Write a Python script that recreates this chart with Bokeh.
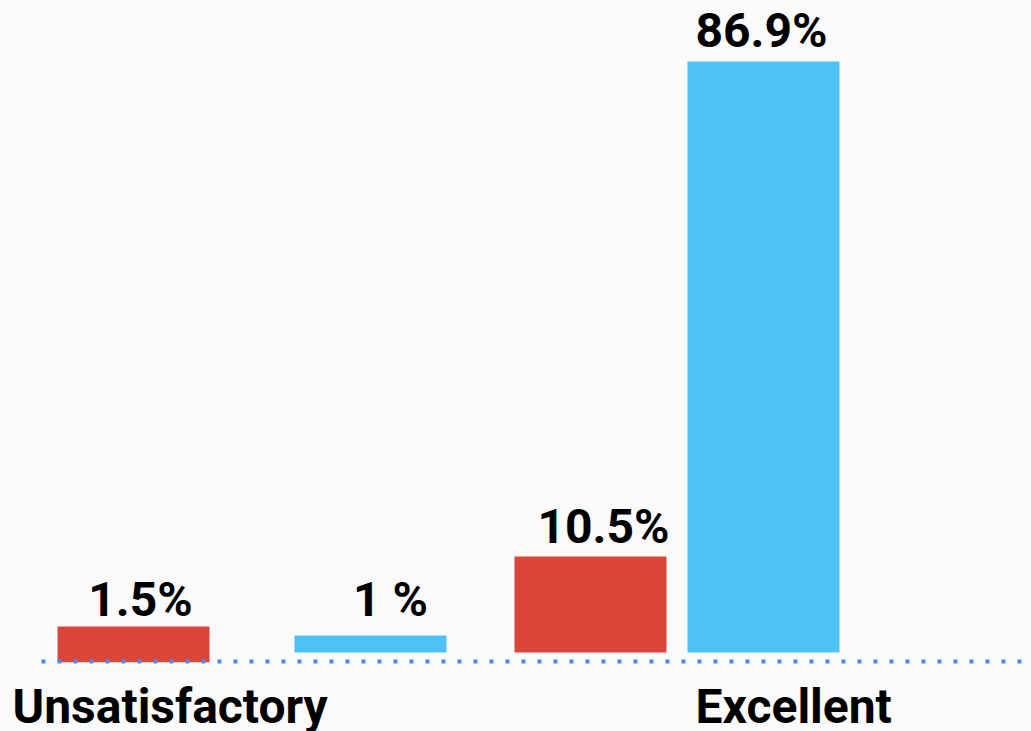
from bokeh.plotting import figure
from bokeh.models import ColumnDataSource, Range1d
from bokeh.core.properties import value
from bokeh.embed import file_html
from bokeh.resources import INLINE

# ---- data ----
label_texts = ["1.5%", "1 %", "10.5%", "86.9%"]
values = [1.5, 1.0, 10.5, 86.9]
# drawn bar extents (percent units, as they appear in the picture)
bar_top = [3.82, 2.5, 14.12, 86.9]
bar_bottom = [-1.43, 0.0, 0.0, 0.0]
bar_x = [133, 370, 590, 763]
category_labels = ["Unsatisfactory", "Excellent"]
category_x = [12, 695]

RED = "#DC463A"
BLUE = "#4FC3F7"
BG = "#FAFAFA"
PX = 6.8  # pixels per percent unit
SHIFT = -17  # compensate baseline placement of svg text

W, H = 1031, 731
BASE = 652  # screen y of zero
p = figure(width=W, height=H, output_backend="svg", toolbar_location=None,
           x_range=Range1d(0, W), y_range=Range1d(-(H - BASE) / PX, BASE / PX),
           min_border=0, background_fill_color=BG, border_fill_color=BG)
p.axis.visible = False
p.grid.visible = False
p.outline_line_color = None

pad = [10, 19, 13, 14]
label_y = [t + d / PX for t, d in zip(bar_top, pad)]
bars = ColumnDataSource(dict(x=bar_x, top=bar_top, bottom=bar_bottom,
                             color=[RED, BLUE, RED, BLUE], text=label_texts,
                             ly=label_y, dx=[7, 20, 13, -2]))
p.vbar(x="x", top="top", bottom="bottom", width=152, fill_color="color",
       line_color=None, source=bars)

p.segment(x0=[41], y0=[-9 / PX], x1=[W], y1=[-9 / PX], line_color="#4A8CF7",
          line_width=4, line_dash="4 12")

p.text(x="x", y="ly", text="text", x_offset="dx", y_offset=SHIFT, source=bars,
       text_font=value("Roboto"), text_font_style="bold", text_font_size="48px",
       text_align="center", text_baseline="alphabetic", text_color="#000000")

cat_y = [-(723 - BASE) / PX] * 2
cats = ColumnDataSource(dict(x=category_x, y=cat_y, text=category_labels))
p.text(x="x", y="y", text="text", y_offset=SHIFT, source=cats, text_font=value("Roboto"),
       text_font_style="bold", text_font_size="48px", text_align="left",
       text_baseline="alphabetic", text_color="#000000")

template = """{% block preamble %}<style>html, body { background: #FAFAFA; }</style>{% endblock %}"""
html = file_html(p, INLINE, "chart", template=template)
open("out.html", "w").write(html)
